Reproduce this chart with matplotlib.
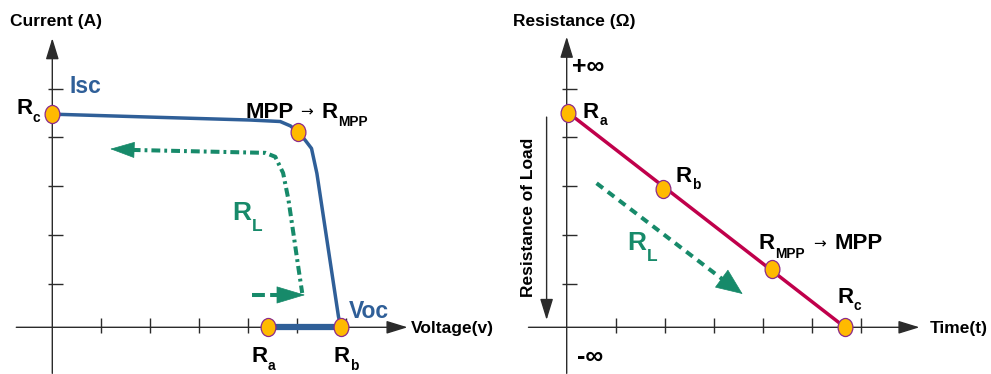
import matplotlib
matplotlib.use("Agg")
import matplotlib.pyplot as plt
import numpy as np
from matplotlib.path import Path

# ---- left panel: I-V curve (units = tick spacing) ----
iv_voltage = [0.0, 2.0, 4.04, 4.65, 4.86, 5.01, 5.16, 5.29, 5.40, 5.84, 5.89]
iv_current = [4.35, 4.29, 4.23, 4.20, 4.11, 3.99, 3.82, 3.65, 3.14, 0.22, 0.0]
short_voltage = [4.41, 5.89]          # Ra -> Rb along the voltage axis
short_current = [0.0, 0.0]
iv_pts_v = [0.0, 5.01, 4.41, 5.89]    # Rc, MPP, Ra, Rb
iv_pts_i = [4.35, 3.99, 0.0, 0.0]
iv_xticks = [1, 2, 3, 4, 5, 6]
iv_yticks = [0.88, 1.88, 2.88, 3.88, 4.87]

# green R_L path on the I-V plot
rl_path_v = [1.62, 4.35, 4.55, 4.71, 4.82, 4.92, 5.02, 5.10]
rl_path_i = [3.62, 3.56, 3.48, 3.15, 2.60, 1.92, 1.23, 0.70]
rl_small_v = [4.08, 4.61]
rl_small_i = [0.66, 0.66]

# ---- right panel: resistance vs time ----
rt_time = [0.03, 5.68]
rt_res = [4.38, 0.0]
rt_pts_t = [0.03, 1.96, 4.18, 5.68]   # Ra, Rb, RMPP, Rc
rt_pts_r = [4.38, 2.83, 1.18, 0.0]
rt_xticks = [1, 2, 3, 4, 5, 6]
rt_yticks = [0.88, 1.88, 2.88, 3.88, 4.87]
rl_arrow_t = [0.61, 3.18, 3.59]
rl_arrow_r = [2.94, 0.98, 0.68]

BLUE = "#2f5f98"
RED = "#c0004b"
GREEN = "#178a6a"
ORANGE = "#ffba00"
EDGE = "#8b2a8b"
AX = "#2b2b2b"

plt.rcParams["font.family"] = ["Liberation Sans", "DejaVu Sans"]
plt.rcParams["font.weight"] = "bold"

circ = Path.unit_circle()
ellipse = Path(circ.vertices * np.array([0.82, 1.0]), circ.codes)

W, H = 991, 374
PX = 49.0  # pixels per unit

fig = plt.figure(figsize=(W / 100, H / 100), dpi=100)


def make_axes(left_px, right_px, x0_px, y0_px):
    ax = fig.add_axes([left_px / W, 0, (right_px - left_px) / W, 1])
    ax.set_xlim((left_px - x0_px) / PX, (right_px - x0_px) / PX)
    ax.set_ylim((y0_px - H) / PX, y0_px / PX)
    ax.axis("off")
    return ax


def arrow(ax, start, tip, scale=10, hl=1.3, hw=0.4, lw=1.0, color=AX, ls="-"):
    ax.annotate("", xy=tip, xytext=start,
                arrowprops=dict(arrowstyle=f"-|>,head_length={hl},head_width={hw}",
                                mutation_scale=scale, lw=lw, color=color,
                                linestyle=ls, shrinkA=0, shrinkB=0))


def r_label(ax, x, y, sub, size=16, color="black", drop=0.36, sub_size=None):
    ax.text(x, y, "R", fontsize=size, color=color, ha="left", va="baseline")
    ax.annotate(sub, xy=(x, y), xytext=(0.74 * size, -drop * size),
                textcoords="offset points", fontsize=sub_size or size * 0.62,
                color=color, ha="left", va="baseline")


def small_arrow(ax, x, y):
    ax.text(x, y, "\u2192", fontsize=11, family="DejaVu Sans", weight="normal",
            ha="left", va="baseline")


def axes_frame(ax, xmin, xmax, ymin, ymax, xticks, yticks):
    arrow(ax, (xmin, 0), (xmax, 0))
    arrow(ax, (0, ymin), (0, ymax))
    ax.vlines(xticks, -0.12, 0.18, color=AX, lw=1.0)
    ax.hlines(yticks, -0.09, 0.22, color=AX, lw=1.0)


# ================= left =================
axl = make_axes(0, 495, 52.3, 327.3)
axes_frame(axl, -0.735, 7.25, -0.94, 5.9, iv_xticks, iv_yticks)

axl.plot(iv_voltage, iv_current, color=BLUE, lw=2.5, solid_capstyle="round", zorder=3)
axl.plot(short_voltage, short_current, color=BLUE, lw=4.5, zorder=3)
axl.plot(iv_pts_v, iv_pts_i, ls="none", marker=ellipse, ms=13,
         mfc=ORANGE, mec=EDGE, mew=0.9, zorder=5)

axl.plot(rl_path_v, rl_path_i, color=GREEN, lw=2.9, dashes=[2.2, 1.0, 0.7, 1.0], zorder=2)
arrow(axl, (rl_path_v[0] + 0.05, rl_path_i[0]), (1.18, 3.64), scale=16.5, hl=1.0, hw=0.33,
      lw=0.5, color=GREEN)
axl.plot(rl_small_v, rl_small_i, color=GREEN, lw=2.9, dashes=[3.2, 1.3], zorder=2)
arrow(axl, (rl_small_v[1], rl_small_i[1]), (5.16, 0.66), scale=19.4, hl=1.0, hw=0.3,
      lw=0.5, color=GREEN)

axl.text(-0.87, 6.14, "Current (A)", fontsize=12.5, ha="left", va="baseline")
axl.text(7.31, -0.12, "Voltage(v)", fontsize=12.5, ha="left", va="baseline")
axl.text(0.35, 4.79, "Isc", fontsize=16.5, color=BLUE, ha="left", va="baseline")
axl.text(6.05, 0.20, "Voc", fontsize=16.5, color=BLUE, ha="left", va="baseline")
r_label(axl, -0.74, 4.35, "c")
r_label(axl, 4.06, -0.70, "a")
r_label(axl, 5.74, -0.70, "b")
r_label(axl, 3.68, 2.19, "L", size=19, color=GREEN, drop=0.4, sub_size=12.5)
axl.text(3.95, 4.28, "MPP", fontsize=16, ha="left", va="baseline")
small_arrow(axl, 5.06, 4.30)
r_label(axl, 5.50, 4.28, "MPP", drop=0.4)

# ================= right =================
axr = make_axes(495, 991, 566.7, 327.3)
axes_frame(axr, -0.78, 7.2, -0.94, 5.93, rt_xticks, rt_yticks)

axr.plot(rt_time, rt_res, color=RED, lw=2.5, zorder=3)
axr.plot(rt_pts_t, rt_pts_r, ls="none", marker=ellipse, ms=13,
         mfc=ORANGE, mec=EDGE, mew=0.9, zorder=5)

axr.plot(rl_arrow_t[:2], rl_arrow_r[:2], color=GREEN, lw=2.9, dashes=[2.0, 1.5], zorder=2)
arrow(axr, (rl_arrow_t[1], rl_arrow_r[1]), (rl_arrow_t[2], rl_arrow_r[2]), scale=18,
      hl=1.0, hw=0.42, lw=0.5, color=GREEN)

arrow(axr, (-0.41, 4.29), (-0.41, 0.15))
axr.text(-0.78, 2.24, "Resistance of Load", fontsize=12.5, rotation=90,
         ha="center", va="center")
axr.text(-1.10, 6.14, "Resistance (\u03a9)", fontsize=12.5, ha="left", va="baseline")
axr.text(7.41, -0.12, "Time(t)", fontsize=12.5, ha="left", va="baseline")
axr.text(0.10, 5.31, "+\u221e", fontsize=18, ha="left", va="center")
axr.text(0.22, -0.60, "-\u221e", fontsize=18, ha="left", va="center")

r_label(axr, 0.33, 4.27, "a", drop=0.32)
r_label(axr, 2.22, 2.97, "b", drop=0.32)
r_label(axr, 5.52, 0.50, "c", drop=0.32)
r_label(axr, 3.92, 1.59, "MPP", drop=0.4)
small_arrow(axr, 5.02, 1.61)
axr.text(5.46, 1.59, "MPP", fontsize=16, ha="left", va="baseline")
r_label(axr, 1.24, 1.57, "L", size=19, color=GREEN, drop=0.4, sub_size=12.5)

fig.savefig("out.png", dpi=100)
